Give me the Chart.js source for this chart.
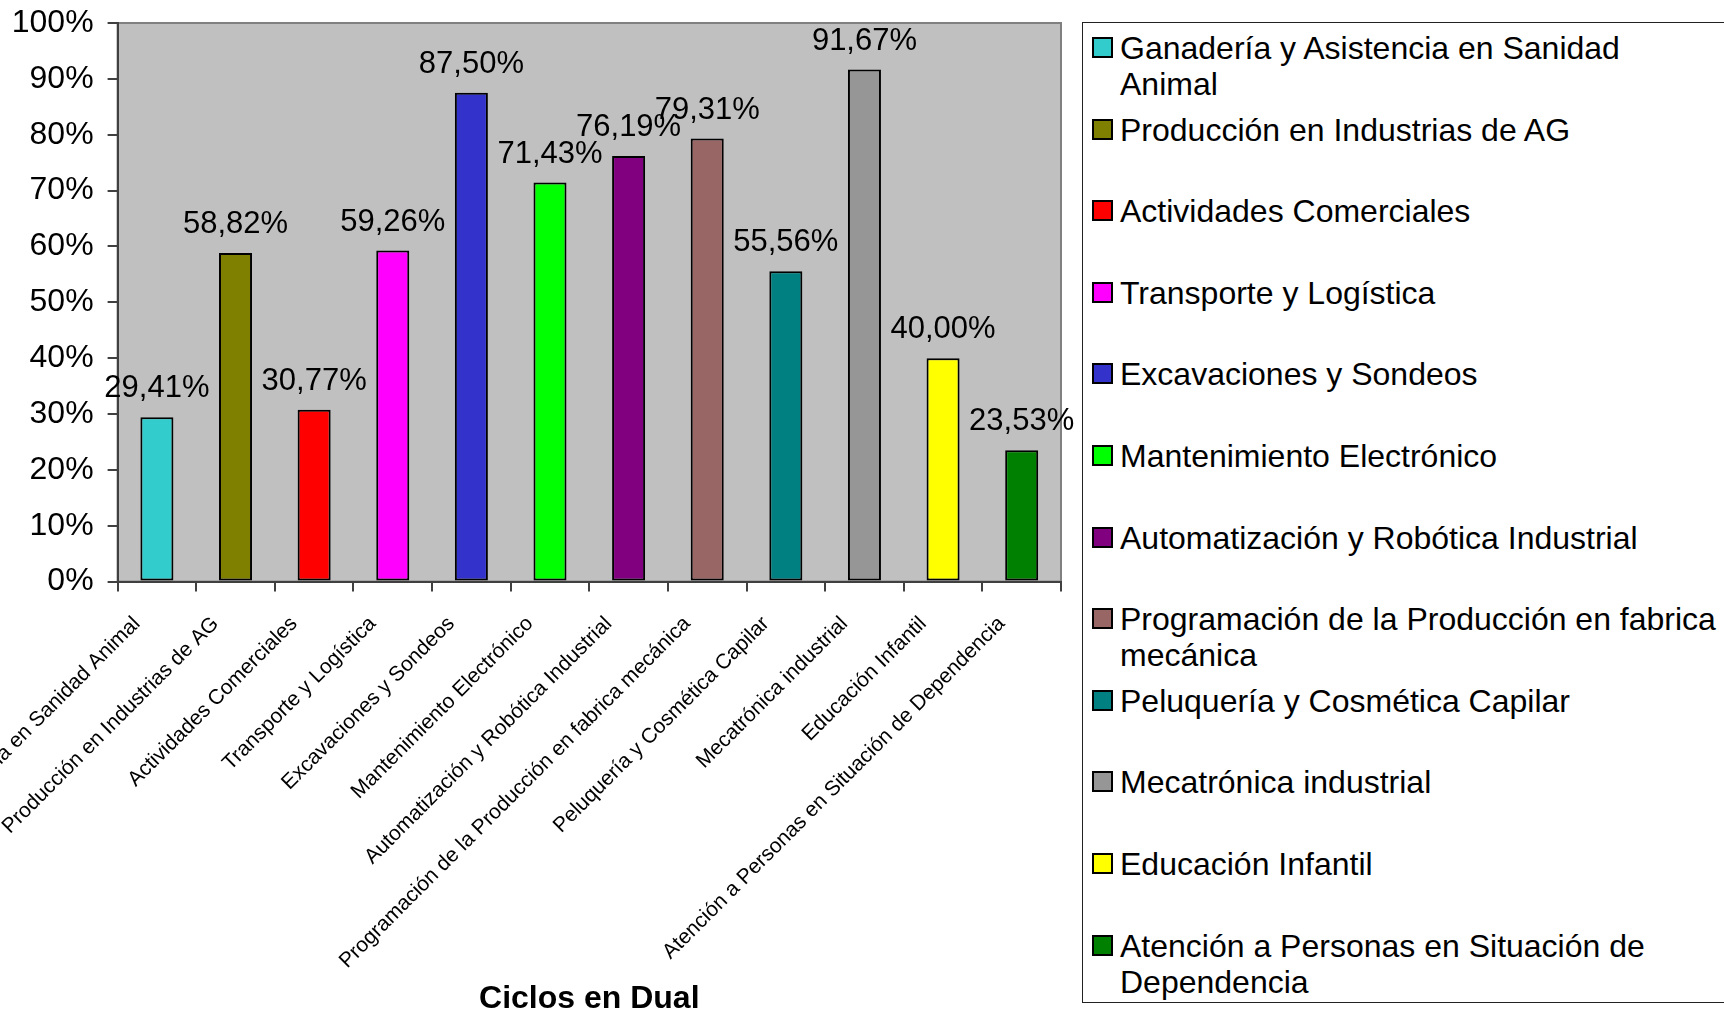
<!DOCTYPE html>
<html>
<head>
<meta charset="utf-8">
<title>Ciclos en Dual</title>
<script src="https://cdn.jsdelivr.net/npm/chart.js@4.4.1/dist/chart.umd.min.js"></script>
<style>
  html, body { margin: 0; padding: 0; background: #fff; }
  body { width: 1724px; height: 1015px; position: relative; overflow: hidden; font-family: "Liberation Sans", Arial, sans-serif; }
  #wrap { position: absolute; left: 0; top: 0; width: 1075px; height: 1015px; }
  #legend { position: absolute; left: 1082px; top: 22px; width: 646px; height: 981px; border: 1.5px solid #222; box-sizing: border-box; padding-top: 7px; }
  .item { position: relative; height: 81.6px; padding-left: 37px; font-size: 32px; line-height: 36px; color: #000; white-space: pre; }
  .item .sw { position: absolute; left: 9px; top: 7px; width: 21px; height: 21px; border: 2px solid #000; box-sizing: border-box; }
</style>
</head>
<body>
<div id="wrap"><canvas id="barChart"></canvas></div>
<div id="legend"></div>
<script>
const categories = [
  'Ganadería y Asistencia en Sanidad Animal',
  'Producción en Industrias de AG',
  'Actividades Comerciales',
  'Transporte y Logística',
  'Excavaciones y Sondeos',
  'Mantenimiento Electrónico',
  'Automatización y Robótica Industrial',
  'Programación de la Producción en fabrica mecánica',
  'Peluquería y Cosmética Capilar',
  'Mecatrónica industrial',
  'Educación Infantil',
  'Atención a Personas en Situación de Dependencia'
];
// legend text, wrapped where the original legend box wraps
const legendLabels = [
  'Ganadería y Asistencia en Sanidad\nAnimal',
  'Producción en Industrias de AG',
  'Actividades Comerciales',
  'Transporte y Logística',
  'Excavaciones y Sondeos',
  'Mantenimiento Electrónico',
  'Automatización y Robótica Industrial',
  'Programación de la Producción en fabrica\nmecánica',
  'Peluquería y Cosmética Capilar',
  'Mecatrónica industrial',
  'Educación Infantil',
  'Atención a Personas en Situación de\nDependencia'
];
const percentages = [29.41, 58.82, 30.77, 59.26, 87.50, 71.43, 76.19, 79.31, 55.56, 91.67, 40.00, 23.53];
const barColors = ['#33cccc', '#808000', '#ff0000', '#ff00ff', '#3333cc', '#00ff00', '#800080', '#996666', '#008080', '#969696', '#ffff00', '#008000'];
const yTicks = [0, 10, 20, 30, 40, 50, 60, 70, 80, 90, 100];
const axisTitle = 'Ciclos en Dual';

const fmt = (v) => v.toFixed(2).replace('.', ',') + '%';

Chart.defaults.font.family = '"Liberation Sans", Arial, sans-serif';
Chart.defaults.color = '#000';

// gray plot area like the old Excel chart
const plotBg = {
  id: 'plotBg',
  beforeDraw(chart) {
    const { ctx, chartArea: a } = chart;
    ctx.save();
    ctx.fillStyle = '#c0c0c0';
    ctx.fillRect(a.left, a.top, a.right - a.left, a.bottom - a.top);
    ctx.strokeStyle = '#808080';
    ctx.lineWidth = 2;
    ctx.strokeRect(a.left, a.top, a.right - a.left, a.bottom - a.top);
    ctx.restore();
  }
};

const valueLabels = {
  id: 'valueLabels',
  afterDatasetsDraw(chart) {
    const { ctx } = chart;
    const meta = chart.getDatasetMeta(0);
    ctx.save();
    ctx.font = '31px "Liberation Sans", Arial, sans-serif';
    ctx.fillStyle = '#000';
    ctx.textAlign = 'center';
    ctx.textBaseline = 'alphabetic';
    meta.data.forEach((bar, i) => {
      ctx.fillText(fmt(percentages[i]), bar.x, bar.y - 20);
    });
    ctx.restore();
  }
};

new Chart(document.getElementById('barChart'), {
  type: 'bar',
  data: {
    labels: categories,
    datasets: [{
      data: percentages,
      backgroundColor: barColors,
      borderColor: '#000',
      borderWidth: 2,
      borderSkipped: false,
      barPercentage: 0.42,
      categoryPercentage: 1
    }]
  },
  options: {
    responsive: true,
    maintainAspectRatio: false,
    animation: false,
    layout: { padding: { top: 23, right: 14, bottom: 0, left: 0 } },
    plugins: { legend: { display: false }, tooltip: { enabled: false } },
    scales: {
      y: {
        min: 0,
        max: 100,
        afterBuildTicks: (s) => { s.ticks = yTicks.map((v) => ({ value: v })); },
        afterFit: (s) => { s.width = 117.6; s.paddingTop = 0; s.paddingBottom = 0; },
        ticks: { callback: (v) => v + '%', font: { size: 32 }, padding: 14 },
        grid: { drawOnChartArea: false, drawTicks: true, tickLength: 10, color: '#404040', lineWidth: 2 },
        border: { color: '#404040', width: 2 }
      },
      x: {
        afterFit: (s) => { s.height = 433.4; s.paddingLeft = 0; s.paddingRight = 0; },
        ticks: { autoSkip: false, minRotation: 45, maxRotation: 45, font: { size: 21 }, padding: 20, labelOffset: -20 },
        grid: { offset: true, drawOnChartArea: false, drawTicks: true, tickLength: 10, color: '#404040', lineWidth: 2 },
        border: { color: '#404040', width: 2 },
        title: { display: true, text: axisTitle, font: { size: 32, weight: 'bold', lineHeight: 1 }, padding: { top: 0, bottom: 0 } }
      }
    }
  },
  plugins: [plotBg, valueLabels]
});

const legendEl = document.getElementById('legend');
legendLabels.forEach((name, i) => {
  const item = document.createElement('div');
  item.className = 'item';
  const sw = document.createElement('span');
  sw.className = 'sw';
  sw.style.background = barColors[i];
  item.appendChild(sw);
  item.appendChild(document.createTextNode(name));
  legendEl.appendChild(item);
});
</script>
</body>
</html>
